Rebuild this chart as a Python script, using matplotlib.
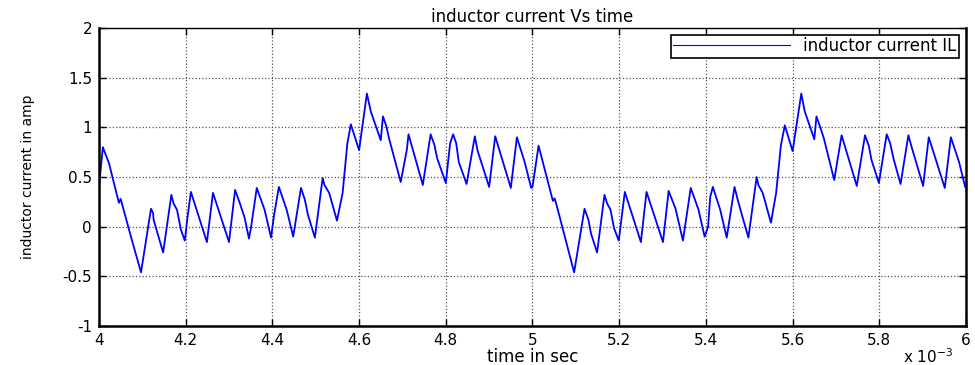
"""
Inductor current vs time, MATLAB-style trace (2 ms window).
"""

import matplotlib
matplotlib.use("Agg")
import matplotlib.pyplot as plt

# time in ms (axis is labelled x 10^-3 s), current in A
TIME_MS = [
    4.000, 4.009, 4.023, 4.046, 4.050, 4.055, 4.062, 4.075, 4.097, 4.120,
    4.125, 4.126, 4.148, 4.167, 4.172, 4.180, 4.189, 4.198, 4.204, 4.212,
    4.249, 4.263, 4.300, 4.314, 4.325, 4.336, 4.346, 4.351, 4.364, 4.382,
    4.397, 4.404, 4.415, 4.433, 4.448, 4.466, 4.475, 4.482, 4.498, 4.516,
    4.520, 4.531, 4.549, 4.562, 4.573, 4.581, 4.600, 4.618, 4.627, 4.650,
    4.655, 4.663, 4.669, 4.696, 4.710, 4.714, 4.747, 4.765, 4.774, 4.780,
    4.800, 4.810, 4.817, 4.824, 4.830, 4.848, 4.867, 4.873, 4.900, 4.914,
    4.950, 4.964, 4.982, 4.997, 5.000,
    5.014, 5.047, 5.051, 5.056, 5.096, 5.120, 5.129, 5.135, 5.149, 5.166,
    5.172, 5.180, 5.188, 5.199, 5.213, 5.250, 5.263, 5.301, 5.314, 5.330,
    5.338, 5.347, 5.365, 5.383, 5.397, 5.405, 5.410, 5.416, 5.433, 5.448,
    5.466, 5.474, 5.482, 5.498, 5.517, 5.521, 5.531, 5.550, 5.562, 5.573,
    5.582, 5.600, 5.620, 5.628, 5.650, 5.655, 5.663, 5.672, 5.696, 5.713,
    5.748, 5.767, 5.776, 5.782, 5.799, 5.817, 5.825, 5.833, 5.849, 5.867,
    5.874, 5.901, 5.914, 5.951, 5.965, 5.984, 5.998, 6.000,
]
CURRENT_A = [
    0.40, 0.80, 0.64, 0.24, 0.28, 0.20, 0.09, -0.12, -0.46, 0.18,
    0.135, 0.07, -0.26, 0.32, 0.235, 0.17, -0.03, -0.14, 0.085, 0.35,
    -0.155, 0.34, -0.155, 0.37, 0.235, 0.09, -0.12, 0.00, 0.39, 0.17,
    -0.11, 0.12, 0.40, 0.17, -0.10, 0.39, 0.27, 0.12, -0.11, 0.49,
    0.42, 0.34, 0.06, 0.34, 0.84, 1.03, 0.77, 1.34, 1.16, 0.87,
    1.11, 1.01, 0.89, 0.45, 0.77, 0.93, 0.42, 0.93, 0.82, 0.69,
    0.44, 0.84, 0.93, 0.84, 0.65, 0.43, 0.91, 0.77, 0.40, 0.91,
    0.39, 0.90, 0.65, 0.39, 0.40,
    0.815, 0.26, 0.285, 0.21, -0.46, 0.18, 0.07, -0.07, -0.26, 0.32,
    0.235, 0.17, -0.015, -0.14, 0.35, -0.155, 0.35, -0.155, 0.36, 0.18,
    0.03, -0.14, 0.39, 0.17, -0.10, 0.00, 0.30, 0.40, 0.17, -0.11,
    0.40, 0.26, 0.135, -0.11, 0.50, 0.42, 0.34, 0.04, 0.34, 0.82,
    1.02, 0.76, 1.34, 1.16, 0.88, 1.11, 1.01, 0.89, 0.47, 0.92,
    0.41, 0.92, 0.81, 0.67, 0.44, 0.93, 0.84, 0.68, 0.43, 0.92,
    0.81, 0.41, 0.90, 0.39, 0.90, 0.65, 0.40, 0.40,
]

X_TICKS = [4.0, 4.2, 4.4, 4.6, 4.8, 5.0, 5.2, 5.4, 5.6, 5.8, 6.0]
X_TICK_LABELS = ["4", "4.2", "4.4", "4.6", "4.8", "5", "5.2", "5.4", "5.6", "5.8", "6"]
Y_TICKS = [-1, -0.5, 0, 0.5, 1, 1.5, 2]
Y_TICK_LABELS = ["-1", "-0.5", "0", "0.5", "1", "1.5", "2"]

plt.rcParams["font.family"] = ["DejaVu Sans"]

fig = plt.figure(figsize=(9.75, 3.65), dpi=100)
ax = fig.add_axes([0.1015, 0.1068, 0.8893, 0.8165])

ax.plot(TIME_MS, CURRENT_A, color="#0000ff", lw=1.3, label="inductor current IL")

ax.set_xlim(4, 6)
ax.set_ylim(-1, 2)
ax.set_xticks(X_TICKS)
ax.set_xticklabels(X_TICK_LABELS)
ax.set_yticks(Y_TICKS)
ax.set_yticklabels(Y_TICK_LABELS)
ax.tick_params(direction="in", length=5, width=1, top=True, right=True,
               labelsize=11, pad=5, colors="black")

ax.grid(True, ls=":", color="#555555", lw=0.9)
for side in ["left", "bottom", "right"]:
    ax.spines[side].set_linewidth(1.8)
ax.spines["top"].set_linewidth(1.0)

ax.set_title("inductor current Vs time", fontsize=12, pad=4)
ax.set_xlabel("time in sec", fontsize=12, labelpad=0)
ax.set_ylabel("inductor current in amp", fontsize=10, labelpad=20)

ax.text(0.927, -0.07, r"x 10$^{-3}$", transform=ax.transAxes,
        fontsize=11, ha="left", va="top")

leg = ax.legend(loc="upper right", fontsize=12, fancybox=False, framealpha=1,
                edgecolor="black", borderaxespad=0.4, handlelength=7,
                borderpad=0.15)
leg.get_frame().set_linewidth(1.2)
for line in leg.get_lines():
    line.set_linewidth(0.8)

fig.savefig("out.png", dpi=100)
